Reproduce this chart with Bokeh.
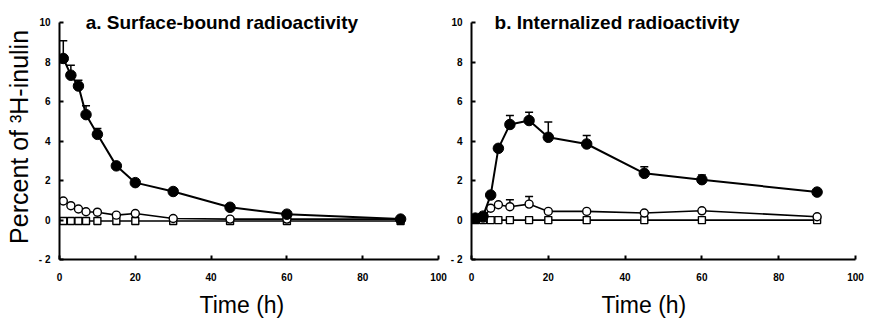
from bokeh.plotting import figure
from bokeh.layouts import row
from bokeh.models import ColumnDataSource, Whisker, TeeHead, Label, Range1d, Title
from bokeh.embed import file_html
from bokeh.resources import INLINE

# ---------------- data ----------------
time_h = [1, 3, 5, 7, 10, 15, 20, 30, 45, 60, 90]
x_ticks = [0, 20, 40, 60, 80, 100]
y_ticks = [-2, 0, 2, 4, 6, 8, 10]
y_tick_labels = {-2: "- 2", 0: "0", 2: "2", 4: "4", 6: "6", 8: "8", 10: "10"}

surf_filled = [8.2, 7.35, 6.8, 5.35, 4.35, 2.75, 1.9, 1.45, 0.65, 0.3, 0.05]
surf_filled_err = [0.9, 0.5, 0.3, 0.45, 0.3, 0.0, 0.0, 0.0, 0.0, 0.0, 0.0]
surf_open = [0.97, 0.73, 0.56, 0.42, 0.4, 0.25, 0.33, 0.08, 0.05, 0.05, 0.05]
surf_open_err = [0.0, 0.0, 0.0, 0.0, 0.0, 0.0, 0.0, 0.0, 0.0, 0.0, 0.0]
surf_square = [-0.05, -0.05, -0.05, -0.05, -0.05, -0.05, -0.05, -0.05, -0.05, -0.05, -0.05]

int_filled = [0.1, 0.2, 1.27, 3.64, 4.85, 5.05, 4.2, 3.86, 2.37, 2.05, 1.42]
int_filled_err = [0.0, 0.0, 0.0, 0.0, 0.45, 0.42, 0.77, 0.43, 0.33, 0.24, 0.0]
int_open = [0.05, 0.1, 0.6, 0.78, 0.68, 0.81, 0.44, 0.44, 0.36, 0.47, 0.17]
int_open_err = [0.0, 0.0, 0.0, 0.0, 0.35, 0.39, 0.0, 0.0, 0.0, 0.0, 0.0]
int_square = [0.0, 0.0, 0.0, 0.0, 0.0, 0.0, 0.0, 0.0, 0.0, 0.0, 0.0]

FONT = "Liberation Sans"
Y_TOP = 11.14  # extra room above 10 for the panel titles


def make_panel(width, bl, br, title, title_x, time_offset, filled, filled_err,
               opened, open_err, square, ylabel=None):
    p = figure(width=width, height=324, x_range=Range1d(0, 100), y_range=Range1d(-2, Y_TOP),
               output_backend="svg", toolbar_location=None,
               min_border_left=bl, min_border_right=br,
               min_border_top=0, min_border_bottom=65)
    p.outline_line_color = None
    p.grid.visible = False
    p.background_fill_color = "white"

    for ax in (p.xaxis[0], p.yaxis[0]):
        ax.axis_line_width = 2
        ax.axis_line_color = "black"
        ax.major_tick_in = 4
        ax.major_tick_out = 0
        ax.major_tick_line_width = 2
        ax.major_tick_line_color = "black"
        ax.minor_tick_line_color = None
        ax.major_label_text_font = FONT
        ax.major_label_text_font_style = "bold"
        ax.major_label_text_font_size = "10px"
        ax.major_label_text_color = "black"

    p.xaxis.ticker = x_ticks
    p.yaxis.ticker = y_ticks
    p.yaxis.bounds = (-2, 10)
    p.yaxis.major_label_overrides = y_tick_labels
    p.xaxis.major_label_standoff = 13
    p.yaxis.major_label_standoff = 9

    if ylabel:
        p.yaxis.axis_label = ylabel
        p.yaxis.axis_label_text_font = FONT
        p.yaxis.axis_label_text_font_style = "normal"
        p.yaxis.axis_label_text_font_size = "25px"
        p.yaxis.axis_label_text_color = "black"
        p.yaxis.axis_label_standoff = 3

    # error bars (upper only)
    for vals, errs in ((filled, filled_err), (opened, open_err)):
        xs = [t for t, e in zip(time_h, errs) if e > 0]
        ys = [v for v, e in zip(vals, errs) if e > 0]
        ups = [v + e for v, e in zip(vals, errs) if e > 0]
        src = ColumnDataSource(dict(x=xs, y=ys, up=ups))
        w = Whisker(source=src, base="x", lower="y", upper="up", dimension="height",
                    line_width=1.5, line_color="black", level="underlay",
                    upper_head=TeeHead(size=8, line_width=1.5, line_color="black"),
                    lower_head=None)
        p.add_layout(w)

    # squares
    p.line(time_h, square, line_color="black", line_width=1.6)
    p.scatter(time_h, square, marker="square", size=7, fill_color="white",
              line_color="black", line_width=1.4)
    # open circles
    p.line(time_h, opened, line_color="black", line_width=1.6)
    p.scatter(time_h, opened, marker="circle", size=8, fill_color="white",
              line_color="black", line_width=1.4)
    # filled circles
    p.line(time_h, filled, line_color="black", line_width=2)
    p.scatter(time_h, filled, marker="circle", size=10.5, fill_color="black",
              line_color="black")

    p.add_layout(Label(x=title_x, y=10, y_offset=0, text=title, text_font=FONT,
                       text_font_style="bold", text_font_size="19px",
                       text_baseline="alphabetic", text_align="left",
                       text_color="black"))
    p.add_layout(Title(text="Time (h)", align="left", offset=time_offset,
                       text_font=FONT, text_font_style="normal", text_font_size="23px",
                       text_color="black", standoff=13), "below")
    return p


pa = make_panel(447, 59, 9, "a. Surface-bound radioactivity", 6.9, 140,
                surf_filled, surf_filled_err, surf_open, surf_open_err, surf_square,
                ylabel="Percent of \u00b3H-inulin\u00a0\u00a0")
pb = make_panel(422, 23, 14, "b. Internalized radioactivity", 6.0, 130,
                int_filled, int_filled_err, int_open, int_open_err, int_square)

layout = row(pa, pb)
open("out.html", "w").write(file_html(layout, INLINE))
